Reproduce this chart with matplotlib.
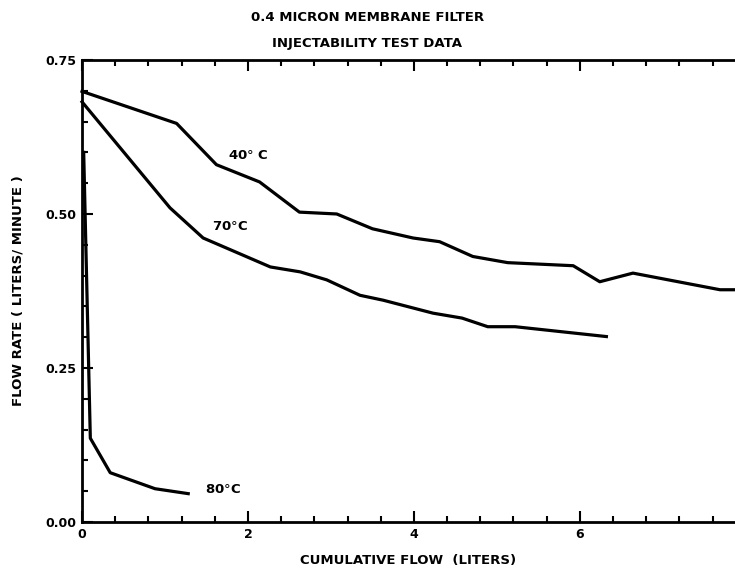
import matplotlib
matplotlib.use("Agg")
import matplotlib.pyplot as plt
from matplotlib.ticker import MultipleLocator

# flow data (liters, liters/minute)
x_40 = [0.0, 1.14, 1.62, 2.14, 2.62, 3.07, 3.50, 3.99, 4.31, 4.71, 5.13, 5.92, 6.24, 6.64, 7.69, 7.90]
y_40 = [0.699, 0.647, 0.580, 0.552, 0.503, 0.500, 0.476, 0.461, 0.455, 0.431, 0.421, 0.416, 0.390, 0.404, 0.377, 0.377]

x_70 = [0.0, 1.06, 1.46, 2.27, 2.63, 2.95, 3.35, 3.63, 4.23, 4.58, 4.89, 5.22, 6.32]
y_70 = [0.682, 0.510, 0.461, 0.414, 0.406, 0.393, 0.368, 0.360, 0.339, 0.331, 0.317, 0.317, 0.301]

x_80 = [0.02, 0.10, 0.34, 0.88, 1.28]
y_80 = [0.600, 0.136, 0.080, 0.054, 0.046]

bold = dict(fontweight="bold", fontsize=9.5, family="DejaVu Sans")

fig = plt.figure(figsize=(7.35, 5.75), dpi=100)
ax = fig.add_axes([0.1116, 0.0922, 0.8884, 0.8035])

for xs, ys in [(x_40, y_40), (x_70, y_70), (x_80, y_80)]:
    ax.plot(xs, ys, color="black", lw=2.3, solid_joinstyle="round", clip_on=False)

ax.text(1.76, 0.59, "40$\\degree$ C", **bold)
ax.text(1.57, 0.474, "70$\\degree$C", **bold)
ax.text(1.48, 0.052, "80$\\degree$C", va="center", **bold)

ax.set_xlim(0, 7.87)
ax.set_ylim(0, 0.75)
ax.xaxis.set_major_locator(MultipleLocator(2))
ax.xaxis.set_minor_locator(MultipleLocator(0.4))
ax.yaxis.set_major_locator(MultipleLocator(0.25))
ax.yaxis.set_minor_locator(MultipleLocator(0.05))
ax.xaxis.set_major_formatter(plt.FuncFormatter(lambda v, p: "%d" % v))
ax.yaxis.set_major_formatter(plt.FuncFormatter(lambda v, p: "%.2f" % v))

ax.tick_params(which="both", direction="in", top=True, width=1.5, color="black")
ax.tick_params(which="major", length=8, pad=4)
ax.tick_params(which="minor", length=4)
for lab in ax.get_xticklabels() + ax.get_yticklabels():
    lab.set_fontweight("bold")
    lab.set_fontsize(9)

ax.spines["right"].set_visible(False)
for s in ["left", "top", "bottom"]:
    ax.spines[s].set_linewidth(2)

ax.set_xlabel("CUMULATIVE FLOW  (LITERS)", labelpad=10, **bold)
ax.set_ylabel("FLOW RATE ( LITERS/ MINUTE )", **bold)
ax.yaxis.set_label_coords(-0.088, 0.5)

fig.text(0.5, 0.97, "0.4 MICRON MEMBRANE FILTER", ha="center", va="center", **bold)
fig.text(0.5, 0.925, "INJECTABILITY TEST DATA", ha="center", va="center", **bold)

fig.savefig("out.png", dpi=100)
